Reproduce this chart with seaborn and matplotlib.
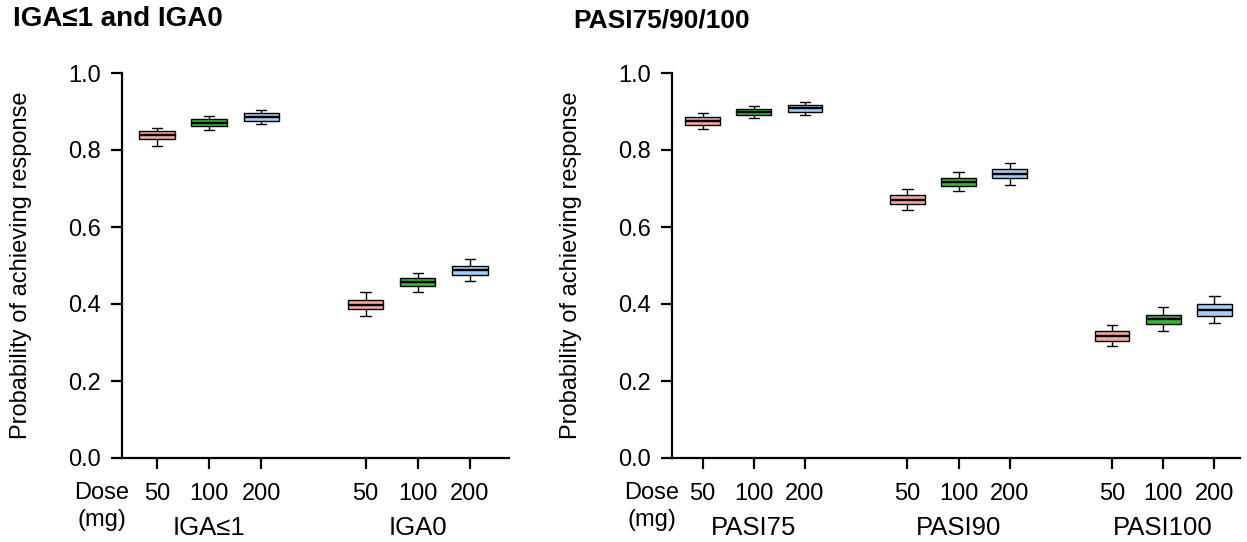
import matplotlib
matplotlib.use("Agg")
import matplotlib.pyplot as plt
import pandas as pd
import seaborn as sns

# doses and colours
doses = ["50", "100", "200"]
dose_colors = ["#F7A7A0", "#3BB43A", "#A6CDF3"]

# left panel: IGA<=1 / IGA0 -> [low whisker, q1, median, q3, high whisker] per dose
iga_groups = ["IGA≤1", "IGA0"]
iga_stats = {
    "IGA≤1": [[0.810, 0.828, 0.838, 0.849, 0.858],
              [0.852, 0.862, 0.871, 0.881, 0.888],
              [0.867, 0.876, 0.885, 0.895, 0.905]],
    "IGA0": [[0.368, 0.386, 0.398, 0.410, 0.430],
             [0.430, 0.446, 0.456, 0.468, 0.481],
             [0.460, 0.476, 0.488, 0.500, 0.518]],
}

# right panel: PASI75/90/100
pasi_groups = ["PASI75", "PASI90", "PASI100"]
pasi_stats = {
    "PASI75": [[0.855, 0.865, 0.875, 0.885, 0.895],
               [0.883, 0.890, 0.898, 0.906, 0.915],
               [0.890, 0.900, 0.908, 0.916, 0.925]],
    "PASI90": [[0.645, 0.660, 0.671, 0.683, 0.698],
               [0.693, 0.706, 0.717, 0.728, 0.742],
               [0.710, 0.726, 0.738, 0.750, 0.765]],
    "PASI100": [[0.290, 0.305, 0.317, 0.330, 0.345],
                [0.330, 0.348, 0.360, 0.372, 0.392],
                [0.350, 0.370, 0.385, 0.400, 0.420]],
}


def to_long(groups, stats):
    rows = []
    for gi, g in enumerate(groups):
        for di, d in enumerate(doses):
            for v in stats[g][di]:
                rows.append({"pos": gi * 4 + di, "dose": d, "value": v})
    return pd.DataFrame(rows)


sns.set_style("ticks")
plt.rcParams["font.family"] = ["Liberation Sans", "DejaVu Sans"]
plt.rcParams["text.color"] = "black"
plt.rcParams["axes.labelcolor"] = "black"

W, H = 1247, 542
fig = plt.figure(figsize=(W / 100, H / 100), dpi=100)


def px_axes(x0, x1, y0, y1):
    return fig.add_axes([x0 / W, 1 - y1 / H, (x1 - x0) / W, (y1 - y0) / H])


def draw_panel(ax, groups, stats, xlim, width_px):
    df = to_long(groups, stats)
    sns.boxplot(data=df, x="pos", y="value", hue="dose", hue_order=doses,
                palette=dose_colors, native_scale=True, dodge=False,
                whis=(0, 100), width=0.68, linecolor="black", linewidth=1.0,
                showfliers=False, saturation=1, legend=False,
                medianprops=dict(color="black", linewidth=1.7),
                capwidths=0.2, ax=ax)
    ax.set_xlim(*xlim)
    ax.set_ylim(0, 1.0)
    ax.set_yticks([0, 0.2, 0.4, 0.6, 0.8, 1.0])
    ax.set_yticklabels(["0.0", "0.2", "0.4", "0.6", "0.8", "1.0"])
    positions = [gi * 4 + di for gi in range(len(groups)) for di in range(3)]
    ax.set_xticks(positions)
    ax.set_xticklabels(doses * len(groups))
    ax.set_xlabel("")
    ax.set_ylabel("Probability of achieving response", fontsize=17)
    ax.yaxis.set_label_coords(-90 / width_px, 0.5)
    for s in ["top", "right"]:
        ax.spines[s].set_visible(False)
    for s in ["left", "bottom"]:
        ax.spines[s].set_linewidth(1.6)
        ax.spines[s].set_color("black")
    ax.tick_params(axis="both", length=8, width=1.6, color="black",
                   labelsize=17, labelcolor="black")
    ax.tick_params(axis="x", pad=10)
    ax.tick_params(axis="y", pad=7)
    for gi, g in enumerate(groups):
        ax.annotate(g, xy=(gi * 4 + 1, 0), xycoords=("data", "axes fraction"),
                    xytext=(0, -70), textcoords="offset pixels",
                    ha="center", va="center", fontsize=18.5)


ax1 = px_axes(122, 509, 73, 458)
draw_panel(ax1, iga_groups, iga_stats, (-0.67, 6.75), 387)
ax2 = px_axes(672, 1240, 73, 458)
draw_panel(ax2, pasi_groups, pasi_stats, (-0.6, 10.5), 568)

for xc in (102, 652):
    fig.text(xc / W, 1 - 493 / H, "Dose", ha="center", va="center", fontsize=17)
    fig.text(xc / W, 1 - 520 / H, "(mg)", ha="center", va="center", fontsize=17)

fig.text(13 / W, 1 - 19 / H, "IGA≤1 and IGA0", ha="left", va="center",
         fontsize=20, fontweight="bold")
fig.text(573 / W, 1 - 21 / H, "PASI75/90/100", ha="left", va="center",
         fontsize=19, fontweight="bold")

fig.savefig("out.png", dpi=100)
